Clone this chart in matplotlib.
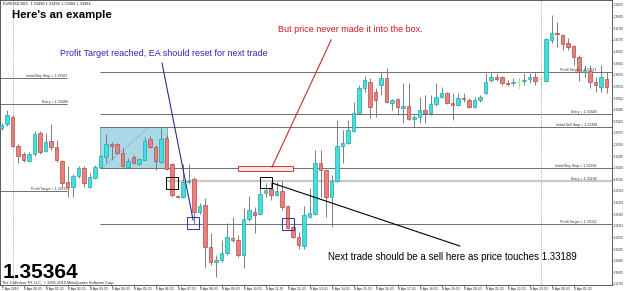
import matplotlib
matplotlib.use("Agg")
import matplotlib.pyplot as plt
from matplotlib.patches import Rectangle
import numpy as np

plt.rcParams['font.family'] = ['Liberation Sans', 'DejaVu Sans']

# ---------------- data (EURUSD M15, 7-9 Apr 2010) ----------------
opens = [1.33394, 1.33409, 1.33436, 1.33324, 1.33293, 1.33266, 1.33293, 1.33375, 1.33305, 1.33344,
         1.33320, 1.33266, 1.33185, 1.33165, 1.33208, 1.33239, 1.33165, 1.33200, 1.33243, 1.33282,
         1.33330, 1.33332, 1.33297, 1.33243, 1.33282, 1.33255, 1.33270, 1.33351, 1.33320, 1.33262,
         1.33355, 1.33255, 1.33131, 1.33127, 1.33185, 1.33196, 1.33069, 1.33096, 1.32933, 1.32875,
         1.32883, 1.32910, 1.32968, 1.32960, 1.32902, 1.33042, 1.33069, 1.33061, 1.33142, 1.33158,
         1.33134, 1.33150, 1.33092, 1.33011, 1.32972, 1.32937, 1.33049, 1.33061, 1.33258, 1.33231,
         1.33127, 1.33189, 1.33324, 1.33336, 1.33382, 1.33452, 1.33549, 1.33572, 1.33533, 1.33560,
         1.33587, 1.33491, 1.33506, 1.33471, 1.33479, 1.33429, 1.33436, 1.33464, 1.33452, 1.33487,
         1.33514, 1.33529, 1.33491, 1.33483, 1.33510, 1.33502, 1.33475, 1.33502, 1.33529, 1.33580,
         1.33591, 1.33591, 1.33568, 1.33568, 1.33572, 1.33576, 1.33584, 1.33591, 1.33584, 1.33576,
         1.33735, 1.33762, 1.33754, 1.33723, 1.33711, 1.33669, 1.33611, 1.33614, 1.33572, 1.33553,
         1.33584]
highs = [1.33413, 1.33464, 1.33444, 1.33332, 1.33301, 1.33301, 1.33382, 1.33382, 1.33375, 1.33409,
         1.33347, 1.33270, 1.33247, 1.33216, 1.33247, 1.33247, 1.33220, 1.33251, 1.33289, 1.33371,
         1.33340, 1.33336, 1.33316, 1.33278, 1.33289, 1.33278, 1.33359, 1.33363, 1.33328, 1.33394,
         1.33367, 1.33258, 1.33134, 1.33255, 1.33255, 1.33204, 1.33104, 1.33123, 1.32987, 1.32902,
         1.32960, 1.33026, 1.33049, 1.32980, 1.33084, 1.33131, 1.33088, 1.33169, 1.33181, 1.33181,
         1.33185, 1.33189, 1.33096, 1.33015, 1.32991, 1.33092, 1.33162, 1.33309, 1.33309, 1.33235,
         1.33212, 1.33425, 1.33386, 1.33425, 1.33494, 1.33560, 1.33595, 1.33587, 1.33549, 1.33611,
         1.33626, 1.33506, 1.33510, 1.33568, 1.33568, 1.33444, 1.33514, 1.33522, 1.33522, 1.33568,
         1.33553, 1.33533, 1.33529, 1.33529, 1.33529, 1.33510, 1.33514, 1.33522, 1.33607, 1.33607,
         1.33607, 1.33595, 1.33580, 1.33587, 1.33587, 1.33607, 1.33607, 1.33611, 1.33591, 1.33742,
         1.33831, 1.33804, 1.33758, 1.33742, 1.33715, 1.33676, 1.33638, 1.33638, 1.33591, 1.33638,
         1.33611]
lows = [1.33386, 1.33402, 1.33320, 1.33258, 1.33262, 1.33262, 1.33285, 1.33293, 1.33301, 1.33309,
        1.33262, 1.33165, 1.33127, 1.33127, 1.33200, 1.33165, 1.33162, 1.33196, 1.33239, 1.33262,
        1.33270, 1.33293, 1.33243, 1.33239, 1.33255, 1.33251, 1.33266, 1.33316, 1.33231, 1.33258,
        1.33231, 1.33127, 1.33123, 1.33123, 1.33177, 1.33022, 1.33061, 1.32852, 1.32864, 1.32817,
        1.32875, 1.32902, 1.32953, 1.32894, 1.32852, 1.33034, 1.32987, 1.33057, 1.33127, 1.33115,
        1.33131, 1.33076, 1.33003, 1.32968, 1.32926, 1.32926, 1.33045, 1.33057, 1.33127, 1.33049,
        1.33011, 1.33185, 1.33258, 1.33332, 1.33378, 1.33448, 1.33533, 1.33433, 1.33436, 1.33522,
        1.33491, 1.33464, 1.33444, 1.33413, 1.33425, 1.33398, 1.33413, 1.33413, 1.33444, 1.33479,
        1.33510, 1.33487, 1.33425, 1.33479, 1.33494, 1.33471, 1.33471, 1.33494, 1.33525, 1.33572,
        1.33576, 1.33560, 1.33556, 1.33556, 1.33549, 1.33560, 1.33568, 1.33560, 1.33560, 1.33572,
        1.33723, 1.33707, 1.33696, 1.33696, 1.33638, 1.33576, 1.33591, 1.33549, 1.33533, 1.33533,
        1.33529]
closes = [1.33405, 1.33444, 1.33324, 1.33285, 1.33270, 1.33293, 1.33371, 1.33301, 1.33340, 1.33320,
          1.33270, 1.33181, 1.33165, 1.33208, 1.33239, 1.33181, 1.33204, 1.33243, 1.33285, 1.33332,
          1.33326, 1.33297, 1.33247, 1.33266, 1.33258, 1.33274, 1.33344, 1.33320, 1.33266, 1.33351,
          1.33235, 1.33134, 1.33127, 1.33185, 1.33189, 1.33069, 1.33092, 1.32933, 1.32875, 1.32883,
          1.32910, 1.32972, 1.32960, 1.32902, 1.33042, 1.33076, 1.33057, 1.33138, 1.33154, 1.33134,
          1.33150, 1.33088, 1.33007, 1.32972, 1.32941, 1.33057, 1.33065, 1.33258, 1.33231, 1.33127,
          1.33189, 1.33324, 1.33336, 1.33386, 1.33452, 1.33549, 1.33580, 1.33475, 1.33502, 1.33587,
          1.33494, 1.33502, 1.33475, 1.33479, 1.33429, 1.33436, 1.33464, 1.33452, 1.33487, 1.33514,
          1.33529, 1.33491, 1.33483, 1.33510, 1.33506, 1.33475, 1.33502, 1.33514, 1.33572, 1.33591,
          1.33584, 1.33568, 1.33564, 1.33572, 1.33572, 1.33580, 1.33591, 1.33576, 1.33584, 1.33738,
          1.33762, 1.33758, 1.33719, 1.33707, 1.33669, 1.33611, 1.33618, 1.33572, 1.33560, 1.33591,
          1.33553]

# x-axis labels (one every 4 bars)
time_labels = ["7 Apr 2010", "8 Apr 00:30", "8 Apr 01:30", "8 Apr 02:30", "8 Apr 03:30", "8 Apr 04:30",
               "8 Apr 05:30", "8 Apr 06:30", "8 Apr 07:30", "8 Apr 08:30", "8 Apr 09:30", "8 Apr 10:30",
               "8 Apr 11:30", "8 Apr 12:30", "8 Apr 13:30", "8 Apr 14:30", "8 Apr 15:30", "8 Apr 16:30",
               "8 Apr 17:30", "8 Apr 18:30", "8 Apr 19:30", "8 Apr 20:30", "8 Apr 21:30", "8 Apr 22:30",
               "8 Apr 23:30", "9 Apr 00:30", "9 Apr 01:30"]
time_label_bars = [0] + list(range(4, 108, 4))

price_ticks = [1.32790, 1.32835, 1.32880, 1.32925, 1.32970, 1.33015, 1.33060, 1.33105, 1.33150,
               1.33195, 1.33240, 1.33285, 1.33330, 1.33375, 1.33420, 1.33465, 1.33510, 1.33555,
               1.33600, 1.33645, 1.33690, 1.33735, 1.33780, 1.33825, 1.33870]

# horizontal levels: (label, price)
left_levels = [("Initial Buy Stop = 1.33587", 1.33587), ("Entry = 1.33488", 1.33488),
               ("Profit Target = 1.33150", 1.33150)]
right_levels = [("Profit Target = 1.33611", 1.33611), ("Entry = 1.33448", 1.33448),
                ("Initial Sell Stop = 1.33398", 1.33398), ("Initial Buy Stop = 1.33238", 1.33238),
                ("Profit Target = 1.33022", 1.33022)]
entry_level = ("Entry = 1.33189", 1.33189)

day_separators = [2, 98]

# ---------------- figure ----------------
W, H = 625, 291
AX_BOTTOM = 284.5
fig = plt.figure(figsize=(W / 100, H / 100), dpi=100)
fig.patch.set_facecolor('white')
ax = fig.add_axes([0.0, (H - AX_BOTTOM) / H, 612 / W, AX_BOTTOM / H])
# pixel y = 5 -> 1.33870 ; 11.625 px per 0.00045
ppx = 0.00045 / 11.625
ax.set_xlim(-0.309, 110.96)
ax.set_ylim(1.33870 - (AX_BOTTOM - 5) * ppx, 1.33870 + 5 * ppx)

n = len(opens)
idx = np.arange(n)
o = np.array(opens); h = np.array(highs); l = np.array(lows); c = np.array(closes)

UP_FACE, UP_EDGE = '#3ee0e0', '#25a5a5'
DN_FACE, DN_EDGE = '#e8807e', '#b34a4a'
DOJI = '#a8e8a0'

# day separators
for d in day_separators:
    ax.axvline(d, color='#909090', lw=0.6, ls=(0, (1, 1.5)), zorder=1)

# horizontal levels
for lab, p in left_levels:
    ax.hlines(p, -0.309, 11.9, color='#707070', lw=0.7, zorder=2)
    ax.text(11.9, p, lab, fontsize=2.6, ha='right', va='bottom', color='#333333', zorder=6)
for lab, p in right_levels:
    ax.hlines(p, 17.9, 110.96, color='#707070', lw=0.7, zorder=2)
    ax.text(108.2, p, lab, fontsize=2.6, ha='right', va='bottom', color='#333333', zorder=6)
ax.hlines(entry_level[1], 29.9, 110.96, color='#c8c8c8', lw=1.6, zorder=2)
ax.text(108.2, entry_level[1], entry_level[0], fontsize=2.6, ha='right', va='bottom', color='#333333', zorder=6)

# blue range box
ax.add_patch(Rectangle((17.9, 1.33238), 30.05 - 17.9, 1.33398 - 1.33238,
                       facecolor='#a9d9e6', edgecolor='#6aa8c0', lw=0.6, zorder=1.5))
ax.plot([18.2, 26.6], [1.33239, 1.33394], color='#9090a0', lw=0.6, ls=(0, (1.5, 1.5)), zorder=1.6)

# candles
ax.vlines(idx, l, h, color='#6a6a6a', lw=0.6, zorder=3)
for i in range(n):
    if c[i] > o[i]:
        fc, ec = UP_FACE, UP_EDGE
    elif c[i] < o[i]:
        fc, ec = DN_FACE, DN_EDGE
    else:
        ax.vlines(i, l[i], h[i], color=DOJI, lw=0.8, zorder=3.1)
        ax.hlines(o[i], i - 0.3, i + 0.3, color=DOJI, lw=0.8, zorder=3.2)
        continue
    b = min(o[i], c[i]); ht = abs(c[i] - o[i])
    ax.add_patch(Rectangle((i - 0.32, b), 0.64, ht, facecolor=fc, edgecolor=ec, lw=0.5, zorder=4))

# annotation shapes
ax.add_patch(Rectangle((33.7, 1.33003), 2.17, 0.00046, fill=False, edgecolor='#3030b0', lw=0.7, zorder=5))
ax.add_patch(Rectangle((50.96, 1.32999), 2.19, 0.00046, fill=False, edgecolor='#3030b0', lw=0.7, zorder=5))
ax.add_patch(Rectangle((29.87, 1.33158), 2.18, 0.00046, fill=False, edgecolor='black', lw=0.7, zorder=5))
ax.add_patch(Rectangle((46.96, 1.33162), 2.19, 0.00042, fill=False, edgecolor='black', lw=0.7, zorder=5))
ax.add_patch(Rectangle((42.96, 1.33227), 10.0, 0.00020, facecolor='#fbe4e4', edgecolor='#c04040', lw=0.7, zorder=5))
ax.plot([29.15, 34.8], [1.33645, 1.33038], color='#2a2aa0', lw=0.8, zorder=5)
ax.plot([59.9, 49.15], [1.33735, 1.33243], color='#c03030', lw=0.8, zorder=5)
ax.plot([49.15, 83.3], [1.33181, 1.32937], color='black', lw=0.8, zorder=5)

# axes styling
ax.yaxis.tick_right()
ax.set_yticks(price_ticks)
ax.set_yticklabels(["%.5f" % t for t in price_ticks], fontsize=2.0)
ax.set_xticks(time_label_bars)
ax.set_xticklabels(time_labels, fontsize=2.4, ha='left')
ax.tick_params(axis='x', length=1.5, width=0.4, pad=0.6, colors='#222222')
ax.tick_params(axis='y', length=1.0, width=0.4, pad=0.3, colors='#222222')
for s in ax.spines.values():
    s.set_linewidth(0.6)
    s.set_color('#404040')

# texts
def fx(x):
    return x / W
def fy(y):
    return 1 - y / H

fig.text(fx(3), fy(4.5), "EURUSD,M15  1.33490 1.33496 1.33484 1.33484", fontsize=2.8, va='baseline', color='#222222')
fig.text(fx(12), fy(18.5), "Here's an example", fontsize=8.2, fontweight='bold', va='baseline', color='black')
fig.text(fx(60), fy(56.5), "Profit Target reached, EA should reset for next trade", fontsize=6.5,
         va='baseline', color='#2b2bb0')
fig.text(fx(278), fy(32.5), "But price never made it into the box.", fontsize=6.5, va='baseline', color='#cc1a1a')
fig.text(fx(328), fy(259.5), "Next trade should be a sell here as price touches 1.33189", fontsize=7,
         va='baseline', color='black')
fig.text(fx(3), fy(278.5), "1.35364", fontsize=15, fontweight='bold', va='baseline', color='black')
fig.text(fx(2), fy(283.8), "The Collective FX LLC, \u00a9 2001-2010 MetaQuotes Software Corp.", fontsize=2.8,
         va='baseline', color='#222222')

fig.savefig('out.png', dpi=100)
